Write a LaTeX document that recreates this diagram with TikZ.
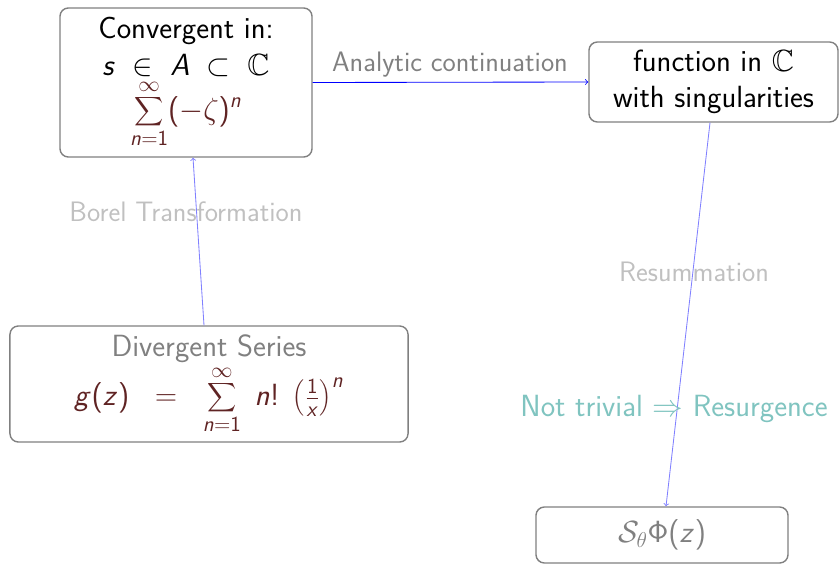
\RequirePackage{fix-cm}
\documentclass[tikz,border=0pt]{standalone}
\usepackage{amssymb}
\usetikzlibrary{calc}
\renewcommand\familydefault{\sfdefault}
\DeclareFontFamily{OMX}{cmex}{}
\DeclareFontShape{OMX}{cmex}{m}{n}{<-> s*[0.66] cmex10}{}
\DeclareSymbolFont{sfitalic}{OT1}{cmss}{m}{sl}
\SetSymbolFont{operators}{normal}{OT1}{cmss}{m}{n}
\makeatletter
\count@=`a
\loop \mathcode\count@=\numexpr"7000+\symsfitalic*"100+\count@\relax
\ifnum\count@<`z \advance\count@ 1 \repeat
\count@=`A
\loop \mathcode\count@=\numexpr"7000+\symsfitalic*"100+\count@\relax
\ifnum\count@<`Z \advance\count@ 1 \repeat
\makeatother
\definecolor{formula}{RGB}{95,35,35}
\definecolor{txtgray}{RGB}{128,128,128}
\definecolor{lightgraytxt}{RGB}{192,192,192}
\definecolor{tealtxt}{RGB}{128,196,192}
\definecolor{boxgray}{RGB}{128,128,128}
\tikzset{
  box/.style={draw=boxgray, line width=1pt, rounded corners=6pt, inner sep=0pt, align=center},
  midtext/.style={font=\fontsize{20}{24}\selectfont},
  bigtext/.style={font=\fontsize{21.8}{26}\selectfont},
  arrblue/.style={->, draw=blue, line width=0.6pt},
  arrlight/.style={->, draw=blue!50, line width=0.6pt},
  lbl/.style={midtext, inner sep=0pt}
}
\begin{document}
\begin{tikzpicture}[x=0.025cm, y=-0.025cm]
\useasboundingbox (0,0) rectangle (840,564);
\node[box, bigtext, minimum width=6.3cm, minimum height=3.725cm] (conv) at (186,82.5)
  {Convergent in:\\ $s\;\in\;A\;\subset\;\mathbb{C}$\\[2pt]
   \textcolor{formula}{$\displaystyle\sum_{n=1}^{\infty}(-\zeta)^n$}};
\node[box, bigtext, minimum width=6.225cm, minimum height=2cm] (func) at (713.5,82)
  {function in $\mathbb{C}$\\ with singularities};
\node[box, bigtext, minimum width=9.95cm, minimum height=2.9cm] (div) at (209,384)
  {\textcolor{txtgray}{Divergent Series}\\[2pt]
   \textcolor{formula}{$\displaystyle g(z)\;\;=\;\;\sum_{n=1}^{\infty}\;n!\;\left(\vcenter{\hbox{\rule{0pt}{18pt}}}{\textstyle\frac{1}{x}}\right)^{n}$}};
\node[box, bigtext, minimum width=6.3cm, minimum height=1.4cm, text=txtgray] (res) at (662,535)
  {$\mathcal{S}_{\theta}\Phi(z)$};
\draw[arrblue] (conv.east) -- (func.west);
\draw[arrlight] ($(div.north)+(-5,0)$) -- ($(conv.south)+(7,0)$);
\draw[arrlight] ($(func.south)+(-3.5,0)$) -- ($(res.north)+(4,0)$);
\node[lbl, text=txtgray] (lac) at (450,65) {Analytic continuation};
\node[lbl, text=lightgraytxt] (lbt) at (186,212) {Borel Transformation};
\node[lbl, text=lightgraytxt] (lrs) at (694,272) {Resummation};
\node[lbl, bigtext, text=tealtxt] (lnt) at (674,409) {Not trivial $\Rightarrow$ Resurgence};
\end{tikzpicture}
\end{document}
